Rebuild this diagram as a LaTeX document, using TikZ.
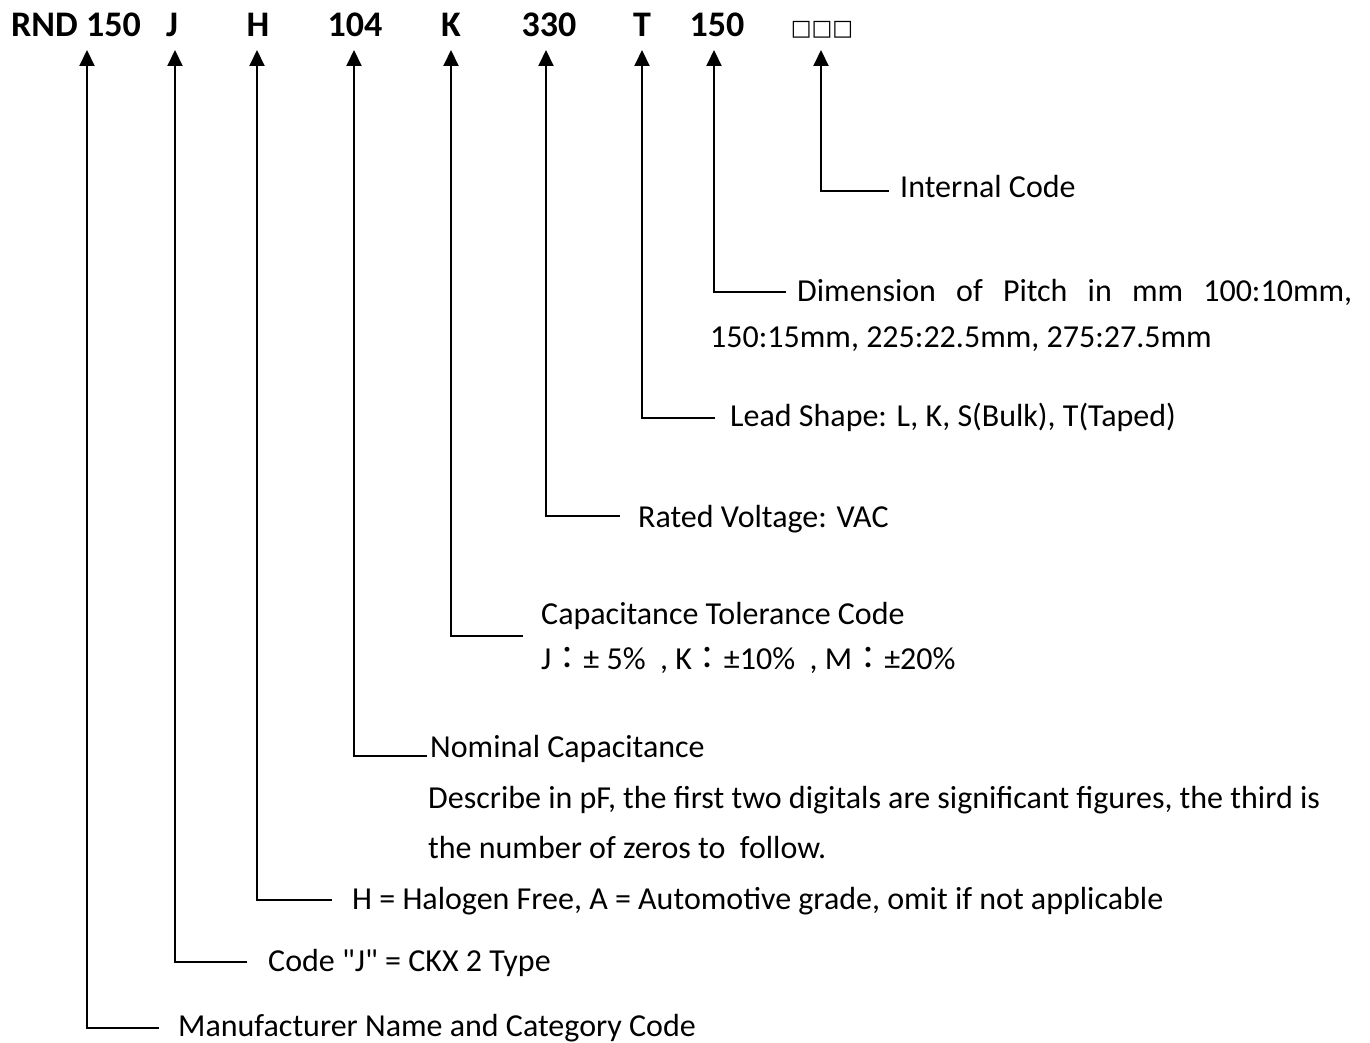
\documentclass[tikz,border=0pt]{standalone}
\usepackage{fontspec}
\setmainfont{Carlito}
\newfontfamily\qfont{Carlito}
\newfontfamily\symfont{DejaVu Sans}
\newfontfamily\cjkfont{Noto Sans CJK TC}
\usetikzlibrary{arrows.meta}
\begin{document}
\begin{tikzpicture}[x=1pt,y=-1pt,
  codetxt/.style={font=\fontsize{36}{40}\selectfont\bfseries, anchor=base, inner sep=0pt},
  lab/.style={font=\fontsize{32}{38}\selectfont, anchor=base west, inner sep=0pt},
  conn/.style={line width=2pt, -{Triangle[width=15pt,length=16pt]}}]
\useasboundingbox (0,0) rectangle (1370,1043);
% code row
\node[codetxt] (c1) at (76,37) {RND 150};
\node[codetxt] (c2) at (172,37) {J};
\node[codetxt] (c3) at (258,37) {H};
\node[codetxt] (c4) at (355,37) {104};
\node[codetxt] (c5) at (451,37) {K};
\node[codetxt] (c6) at (549,37) {330};
\node[codetxt] (c7) at (642,37) {T};
\node[codetxt] (c8) at (717,37) {150};
\node[anchor=base, inner sep=0pt, font=\symfont\fontsize{22}{26}\selectfont] (c9) at (822,36) {□□□};
% arrow tips
\coordinate (t1) at (87,50);
\coordinate (t2) at (175,50);
\coordinate (t3) at (257,50);
\coordinate (t4) at (354,50);
\coordinate (t5) at (451,50);
\coordinate (t6) at (546,50);
\coordinate (t7) at (642,50);
\coordinate (t8) at (714,50);
\coordinate (t9) at (821,50);
% horizontal ends
\coordinate (e1) at (159,1028);
\coordinate (e2) at (247,962);
\coordinate (e3) at (332,900);
\coordinate (e4) at (427,756);
\coordinate (e5) at (523,636);
\coordinate (e6) at (620,516);
\coordinate (e7) at (715,418);
\coordinate (e8) at (786,292);
\coordinate (e9) at (889,191);
% labels
\node[lab] (l1) at (178,1036) {Manufacturer Name and Category Code};
\node[lab] (l2) at (268,971) {Code {\qfont"}J{\qfont"} = CKX 2 Type};
\node[lab] (l3) at (352,909) {H = Halogen Free, A = Automotive grade, omit if not applicable};
\node[lab] (l4) at (430,757) {Nominal Capacitance};
\node[lab] (l4b) at (428,808) {Describe in pF, the first two digitals are significant figures, the third is};
\node[lab] (l4c) at (428,858) {the number of zeros to\ \ follow.};
\node[lab] (l5) at (541,624) {Capacitance Tolerance Code};
\node[lab] (l5b) at (541,669) {J{\cjkfont ：}± 5\%\ \ , K{\cjkfont ：}±10\%\ \ , M{\cjkfont ：}±20\%};
\node[lab] (l6) at (638,527) {Rated Voltage: VAC};
\node[lab] (l7) at (730,426) {Lead Shape: L, K, S(Bulk), T(Taped)};
\node[lab] (l8) at (797,301) {\hbox to 555pt{Dimension\hfill of\hfill Pitch\hfill in\hfill mm\hfill 100:10mm,}};
\node[lab] (l8b) at (710,347) {150:15mm, 225:22.5mm, 275:27.5mm};
\node[lab] (l9) at (900,198) {Internal Code};
% connectors
\draw[conn] (e1) -| (t1);
\draw[conn] (e2) -| (t2);
\draw[conn] (e3) -| (t3);
\draw[conn] (e4) -| (t4);
\draw[conn] (e5) -| (t5);
\draw[conn] (e6) -| (t6);
\draw[conn] (e7) -| (t7);
\draw[conn] (e8) -| (t8);
\draw[conn] (e9) -| (t9);
\end{tikzpicture}
\end{document}
